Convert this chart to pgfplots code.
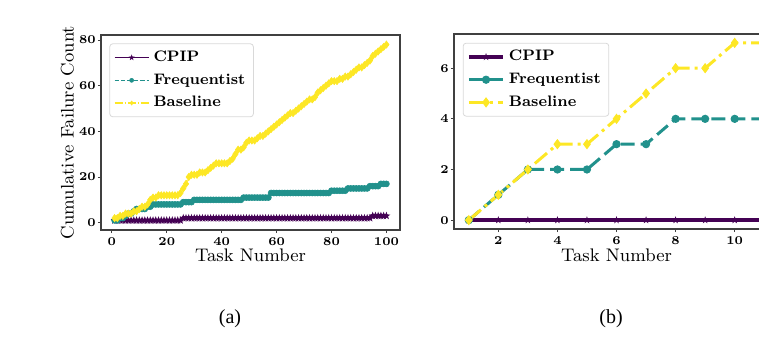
\documentclass[border=0pt]{standalone}
\usepackage{pgfplots}
\pgfplotsset{compat=1.18}
\usepackage{pgfplotstable}
\usepackage{fontspec}
\newfontfamily\capfont{Liberation Serif}
\definecolor{cpip}{HTML}{440154}
\definecolor{freq}{HTML}{21918C}
\definecolor{base}{HTML}{FDE725}

\pgfdeclareplotmark{fstar}{%
  \pgfpathmoveto{\pgfpointpolar{90}{\pgfplotmarksize}}%
  \pgfpathlineto{\pgfpointpolar{126}{0.4\pgfplotmarksize}}%
  \pgfpathlineto{\pgfpointpolar{162}{\pgfplotmarksize}}%
  \pgfpathlineto{\pgfpointpolar{198}{0.4\pgfplotmarksize}}%
  \pgfpathlineto{\pgfpointpolar{234}{\pgfplotmarksize}}%
  \pgfpathlineto{\pgfpointpolar{270}{0.4\pgfplotmarksize}}%
  \pgfpathlineto{\pgfpointpolar{306}{\pgfplotmarksize}}%
  \pgfpathlineto{\pgfpointpolar{342}{0.4\pgfplotmarksize}}%
  \pgfpathlineto{\pgfpointpolar{18}{\pgfplotmarksize}}%
  \pgfpathlineto{\pgfpointpolar{54}{0.4\pgfplotmarksize}}%
  \pgfpathclose\pgfusepathqfillstroke}

\pgfplotstableread{
x c f b
1 1 1 2
2 1 1 2
3 1 2 3
4 1 2 3
5 1 3 4
6 1 4 4
7 1 4 4
8 1 5 5
9 1 6 5
10 1 6 6
11 1 6 7
12 1 6 7
13 1 7 8
14 1 7 10
15 1 8 11
16 1 8 11
17 1 8 12
18 1 8 12
19 1 8 12
20 1 8 12
21 1 8 12
22 1 8 12
23 1 8 12
24 1 8 12
25 1 8 13
26 2 9 15
27 2 9 17
28 2 9 20
29 2 9 21
30 2 10 21
31 2 10 21
32 2 10 22
33 2 10 22
34 2 10 22
35 2 10 23
36 2 10 24
37 2 10 25
38 2 10 26
39 2 10 26
40 2 10 26
41 2 10 26
42 2 10 26
43 2 10 27
44 2 10 28
45 2 10 30
46 2 10 32
47 2 10 32
48 2 11 33
49 2 11 35
50 2 11 36
51 2 11 36
52 2 11 36
53 2 11 37
54 2 11 38
55 2 11 38
56 2 11 39
57 2 11 40
58 2 13 41
59 2 13 42
60 2 13 43
61 2 13 44
62 2 13 45
63 2 13 46
64 2 13 47
65 2 13 48
66 2 13 48
67 2 13 49
68 2 13 50
69 2 13 51
70 2 13 52
71 2 13 53
72 2 13 54
73 2 13 54
74 2 13 55
75 2 13 57
76 2 13 58
77 2 13 59
78 2 13 60
79 2 13 61
80 2 14 62
81 2 14 62
82 2 14 62
83 2 14 63
84 2 14 63
85 2 14 64
86 2 15 64
87 2 15 65
88 2 15 66
89 2 15 67
90 2 15 68
91 2 15 68
92 2 15 69
93 2 15 70
94 2 16 71
95 3 16 73
96 3 16 74
97 3 16 75
98 3 17 76
99 3 17 77
100 3 17 78
}\tabA

\pgfplotstableread{
x c f b
1 0 0 0
2 0 1 1
3 0 2 2
4 0 2 3
5 0 2 3
6 0 3 4
7 0 3 5
8 0 4 6
9 0 4 6
10 0 4 7
11 0 4 7
}\tabB

\pgfplotsset{
  mpl/.style={
    scale only axis,
    axis line style={black!75, line width=0.6pt},
    tick style={black!75, line width=0.5pt},
    tick align=outside, major tick length=1.6pt,
    xtick pos=bottom, ytick pos=left,
    /pgf/number format/assume math mode=true,
    tick label style={font=\bfseries\fontsize{6}{7}\selectfont, inner sep=0.5pt},
    xticklabel style={yshift=-1.4pt},
    yticklabel style={xshift=-0.3pt},
    label style={font=\fontsize{9.1}{10}\selectfont},
    legend cell align=left,
    legend style={font=\bfseries\fontsize{7.6}{9}\selectfont, draw=black!15,
      rounded corners=1.5pt, fill=white, inner xsep=2pt, inner ysep=1.5pt,
      row sep=0.6pt, anchor=north west},
  },
}

\begin{document}
\begin{tikzpicture}
\useasboundingbox (0,0) rectangle (379.5pt,168.5pt);
\clip (0,0) rectangle (379.5pt,168.5pt);
\begin{axis}[mpl,
  at={(50.5pt,53.5pt)}, anchor=south west,
  width=149.5pt, height=97.5pt,
  xmin=-3.95, xmax=104.95, ymin=-3.2, ymax=82.2,
  xtick={0,20,40,60,80,100}, ytick={0,20,40,60,80},
  xlabel={Task Number}, ylabel={Cumulative Failure Count},
  xlabel style={at={(axis description cs:0.5,-0.094)}, anchor=north, inner sep=0pt},
  ylabel style={at={(axis description cs:-0.089,0.5)}, anchor=south, inner sep=0pt},
  legend style={at={(0.028,0.957)}},
  legend image post style={mark size=1pt, line width=0.8pt},
]
\addplot[cpip, line width=1.9pt, mark=fstar, mark size=1.5pt, mark options={line width=0.4pt}] table[x=x,y=c] {\tabA};
\addlegendentry{CPIP}
\addplot[freq, line width=0.9pt, dash pattern=on 2.2pt off 1pt, mark=*, mark size=1.5pt, mark options={solid, line width=0.3pt}] table[x=x,y=f] {\tabA};
\addlegendentry{Frequentist}
\addplot[base, line width=0.9pt, dash pattern=on 4pt off 1pt on 0.6pt off 1pt, mark=diamond*, mark size=1.8pt, mark options={solid, line width=0.3pt}] table[x=x,y=b] {\tabA};
\addlegendentry{Baseline}
\end{axis}

\begin{axis}[mpl,
  at={(227pt,54pt)}, anchor=south west,
  width=162.5pt, height=97.5pt,
  xmin=0.5, xmax=11.5, ymin=-0.35, ymax=7.35,
  xtick={2,4,6,8,10}, ytick={0,2,4,6},
  xlabel={Task Number},
  xlabel style={at={(axis description cs:0.5,-0.099)}, anchor=north, inner sep=0pt},
  legend style={at={(0.027,0.955)}},
]
\addplot[cpip, line width=1.8pt, mark=fstar, mark size=1.2pt, mark options={line width=0.5pt}] table[x=x,y=c] {\tabB};
\addlegendentry{CPIP}
\addplot[freq, line width=1.5pt, dash pattern=on 7pt off 3pt, mark=*, mark size=1.8pt, mark options={solid, line width=0.5pt}] table[x=x,y=f] {\tabB};
\addlegendentry{Frequentist}
\addplot[base, line width=1.5pt, dash pattern=on 8pt off 2.5pt on 1.5pt off 2.5pt, mark=diamond*, mark size=2.2pt, mark options={solid, line width=0.5pt}] table[x=x,y=b] {\tabB};
\addlegendentry{Baseline}
\end{axis}

\node[font=\capfont\fontsize{10}{12}\selectfont] at (115pt,9pt) {(a)};
\node[font=\capfont\fontsize{10}{12}\selectfont] at (305.5pt,9pt) {(b)};
\end{tikzpicture}
\end{document}
